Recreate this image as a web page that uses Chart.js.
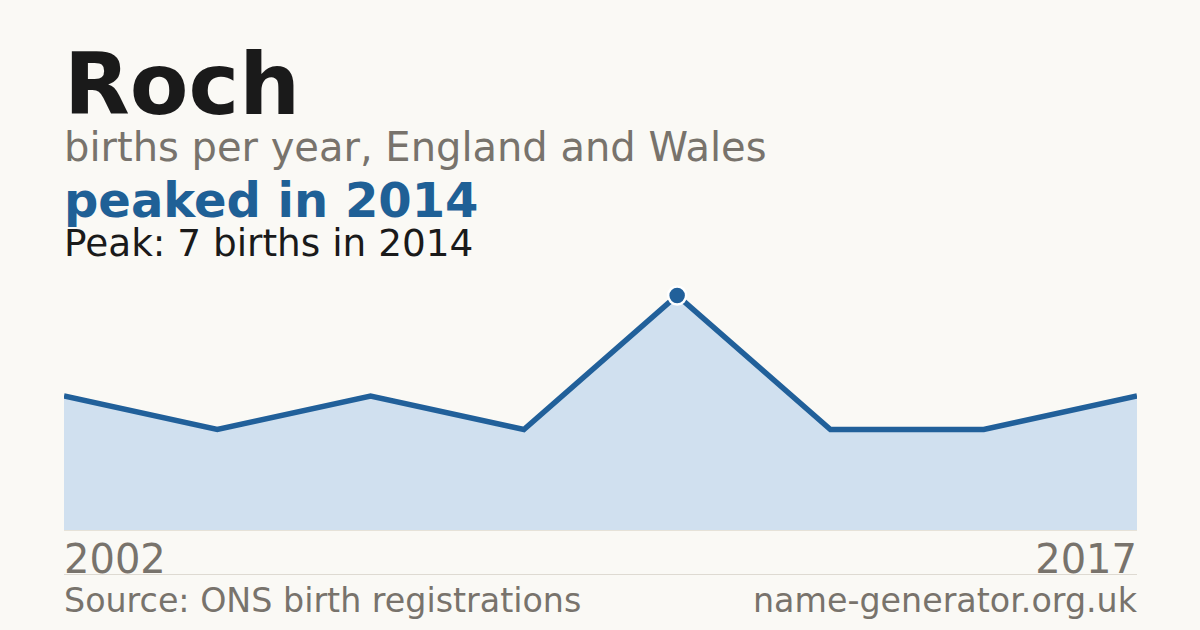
<!DOCTYPE html>
<html>
<head>
<meta charset="utf-8">
<script src="https://cdn.jsdelivr.net/npm/chart.js@4"></script>
<style>
  html, body { margin: 0; padding: 0; }
  body { width: 1200px; height: 630px; background: #faf9f5; position: relative; overflow: hidden;
         font-family: "DejaVu Sans", sans-serif; }
  .t { position: absolute; left: 64px; line-height: 1; white-space: nowrap; }
  #title { top: 42px; font-size: 85.5px; font-weight: bold; color: #1a1a1a; }
  #sub { top: 127px; font-size: 40px; color: #78736c; }
  #headline { top: 176px; font-size: 48px; font-weight: bold; color: #1f6096; }
  #peak { top: 225px; font-size: 37.4px; color: #1a1a1a; }
  .yr { top: 539px; font-size: 40px; color: #78736c; }
  #yrEnd { left: auto; right: 63px; }
  .foot { top: 584px; font-size: 33.3px; color: #78736c; }
  #site { left: auto; right: 63px; }
  #base { position: absolute; left: 64px; width: 1073px; top: 530px; height: 1px; background: #e6e2d8; }
  #sep { position: absolute; left: 64px; width: 1073px; top: 574px; height: 1px; background: #dedad2; }
  #wrap { position: absolute; left: 64px; top: 262px; width: 1073px; height: 268px; }
</style>
</head>
<body>
<div class="t" id="title">Roch</div>
<div class="t" id="sub">births per year, England and Wales</div>
<div class="t" id="headline"></div>
<div class="t" id="peak"></div>
<div id="wrap"><canvas id="chart"></canvas></div>
<div id="base"></div>
<div class="t yr" id="yrStart"></div>
<div class="t yr" id="yrEnd"></div>
<div id="sep"></div>
<div class="t foot">Source: ONS birth registrations</div>
<div class="t foot" id="site">name-generator.org.uk</div>
<script>
  // years with recorded births (only the ends are labelled)
  const years = ["2002", "2006", "2009", "2012", "2014", "2015", "2016", "2017"];
  const births = [4, 3, 4, 3, 7, 3, 3, 4];

  const peakIdx = births.indexOf(Math.max(...births));
  document.getElementById("headline").innerText = `peaked in ${years[peakIdx]}`;
  document.getElementById("peak").innerText = `Peak: ${births[peakIdx]} births in ${years[peakIdx]}`;
  document.getElementById("yrStart").innerText = years[0];
  document.getElementById("yrEnd").innerText = years[years.length - 1];

  const blue = '#21609a';

  new Chart(document.getElementById('chart'), {
    type: 'line',
    data: {
      labels: years,
      datasets: [{
        data: births,
        borderColor: blue,
        borderWidth: 5.5,
        backgroundColor: '#d0e0ef',
        fill: 'origin',
        tension: 0,
        pointRadius: births.map((v, i) => i === peakIdx ? 9 : 0),
        pointBackgroundColor: blue,
        pointBorderColor: '#ffffff',
        pointBorderWidth: 2.5,
        clip: false
      }]
    },
    options: {
      responsive: true,
      maintainAspectRatio: false,
      animation: false,
      events: [],
      layout: { padding: 0 },
      plugins: { legend: { display: false }, tooltip: { enabled: false } },
      scales: {
        x: { display: false, offset: false },
        y: { display: false, min: 0, max: 8 }
      }
    }
  });
</script>
</body>
</html>
